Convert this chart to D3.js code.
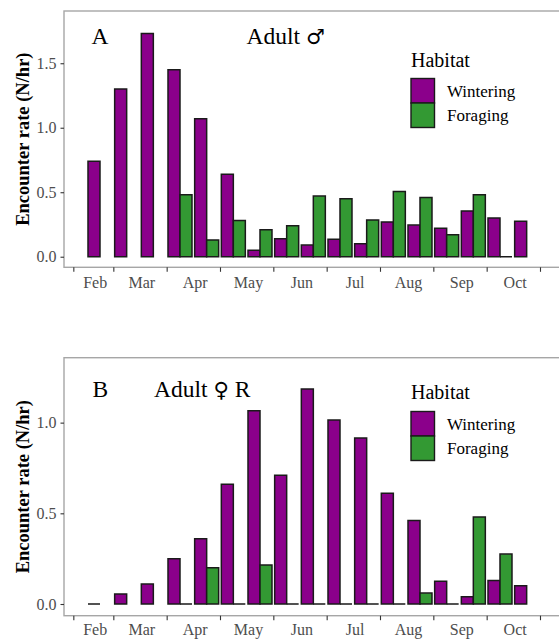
<!DOCTYPE html>
<html>
<head>
<meta charset="utf-8">
<script src="https://cdn.jsdelivr.net/npm/d3@7"></script>
<style>
  body { margin: 0; background: #fff; }
  svg { display: block; }
</style>
</head>
<body>
<svg id="chart" width="559" height="639" font-family="Liberation Serif"></svg>
<script>
// half-month groups, Feb (1st half) .. Oct (2nd half)
const groups = ["Feb-1","Feb-2","Mar-1","Mar-2","Apr-1","Apr-2","May-1","May-2","Jun-1","Jun-2",
                "Jul-1","Jul-2","Aug-1","Aug-2","Sep-1","Sep-2","Oct-1","Oct-2"];
const months = ["Feb","Mar","Apr","May","Jun","Jul","Aug","Sep","Oct"];
const monthLabelPos = [0.8, 2.55, 4.55, 6.55, 8.55, 10.55, 12.55, 14.55, 16.55];
const monthTickPos = [0, 1.5, 3.5, 5.5, 7.5, 9.5, 11.5, 13.5, 15.5, 17.5];
const habitats = ["Wintering", "Foraging"];
const habitatColors = ["#8b008b", "#339933"];

// null = no observation (no bar), 0 = drawn as flat bar
const maleWintering = [null, 0.74, 1.30, 1.73, 1.45, 1.07, 0.64, 0.05, 0.14, 0.09,
                       0.135, 0.10, 0.27, 0.245, 0.22, 0.355, 0.30, 0.275];
const maleForaging  = [null, null, null, null, 0.48, 0.13, 0.28, 0.21, 0.24, 0.47,
                       0.45, 0.285, 0.505, 0.46, 0.17, 0.48, 0, null];
const femaleWintering = [null, 0, 0.055, 0.11, 0.25, 0.36, 0.66, 1.065, 0.71, 1.185,
                         1.015, 0.915, 0.61, 0.46, 0.125, 0.04, 0.13, 0.10];
const femaleForaging  = [null, null, null, null, 0, 0.20, 0, 0.215, 0, 0,
                         0, 0, 0, 0.06, 0, 0.48, 0.275, null];

const yTicksA = [0, 0.5, 1.0, 1.5];
const yTicksB = [0, 0.5, 1.0];

const SERIF = "Liberation Serif";
const svg = d3.select("#chart");

const x = d3.scaleLinear().domain([0, 18]).range([73.33, 553.33]);
const barW = 0.45;

function drawPanel(opts) {
  const g = svg.append("g");
  const y = d3.scaleLinear().domain(opts.yDomain).range([opts.bottom, opts.top]);
  const left = 64, right = 600;

  // panel border
  g.append("rect")
    .attr("x", left).attr("y", opts.top)
    .attr("width", right - left).attr("height", opts.bottom - opts.top)
    .attr("fill", "none").attr("stroke", "#a6a6a6").attr("stroke-width", 1.4);

  // bars
  const series = [opts.wintering, opts.foraging];
  series.forEach((vals, s) => {
    const data = vals.map((v, i) => ({ i, v })).filter(d => d.v !== null);
    g.selectAll(null).data(data).enter().append("path")
      .attr("d", d => {
        const x0 = x(d.i - barW + s * barW), x1 = x(d.i + s * barW);
        const y0 = y(0), y1 = y(d.v);
        return `M${x0},${y0}V${y1}H${x1}V${y0}Z`;
      })
      .attr("fill", habitatColors[s])
      .attr("stroke", "#1a1a1a")
      .attr("stroke-width", 1.5);
  });

  // y axis ticks + labels
  const yAxis = g.append("g")
    .attr("transform", `translate(${left},0)`)
    .call(d3.axisLeft(y).tickValues(opts.yTicks).tickFormat(d3.format(".1f")).tickSize(3.5).tickPadding(4));
  yAxis.attr("font-family", SERIF).attr("font-size", 16);
  yAxis.select(".domain").remove();
  yAxis.selectAll("line").attr("stroke", "#333").attr("stroke-width", 1.1);
  yAxis.selectAll("text").attr("fill", "#4d4d4d");

  // x axis: ticks at month boundaries, labels at month centres
  const xTicks = g.append("g")
    .attr("transform", `translate(0,${opts.bottom})`)
    .call(d3.axisBottom(x).tickValues(monthTickPos).tickFormat("").tickSize(4.5));
  xTicks.select(".domain").remove();
  xTicks.selectAll("line").attr("stroke", "#333").attr("stroke-width", 1.1);

  const xLabels = g.append("g")
    .attr("transform", `translate(0,${opts.bottom})`)
    .call(d3.axisBottom(x).tickValues(monthLabelPos).tickFormat((d, i) => months[i]).tickSize(0).tickPadding(opts.labelPad));
  xLabels.attr("font-family", SERIF).attr("font-size", 16);
  xLabels.select(".domain").remove();
  xLabels.selectAll("text").attr("fill", "#4d4d4d");

  // y title
  g.append("text")
    .attr("transform", `translate(28.5,${(opts.top + opts.bottom) / 2}) rotate(-90)`)
    .attr("text-anchor", "middle")
    .attr("font-family", SERIF).attr("font-size", 18.5).attr("font-weight", "bold")
    .text("Encounter rate (N/hr)");

  // panel letter and title
  g.append("text").attr("x", opts.letterX).attr("y", opts.titleY)
    .attr("font-family", SERIF).attr("font-size", 23.5).text(opts.letter);
  const t = g.append("text").attr("x", opts.titleX).attr("y", opts.titleY)
    .attr("font-family", SERIF).attr("font-size", 23.5);
  t.append("tspan").text(opts.title[0]);
  t.append("tspan").attr("font-family", "DejaVu Sans").attr("font-size", 21).text(opts.title[1]);
  if (opts.title[2]) t.append("tspan").text(opts.title[2]);

  // legend
  const lg = g.append("g").attr("transform", `translate(411,${opts.legendY})`)
    .attr("font-family", SERIF);
  lg.append("text").attr("x", 0).attr("y", 0).attr("font-size", 20).text("Habitat");
  habitats.forEach((h, k) => {
    lg.append("rect")
      .attr("x", 0).attr("y", opts.keyGap + k * 24.5)
      .attr("width", 23.5).attr("height", 24.5)
      .attr("fill", habitatColors[k]).attr("stroke", "#1a1a1a").attr("stroke-width", 1.4);
    lg.append("text").attr("x", 36).attr("y", opts.keyGap + k * 24.5 + 18)
      .attr("font-size", 17).text(h);
  });
}

drawPanel({
  top: 11, bottom: 267.3, yDomain: [-0.082, 1.905], yTicks: yTicksA,
  wintering: maleWintering, foraging: maleForaging,
  letter: "A", letterX: 91.5, title: ["Adult ", "\u2642"], titleX: 246.5, titleY: 44,
  legendY: 66.5, keyGap: 12, labelPad: 9.5
});

drawPanel({
  top: 357.7, bottom: 615.7, yDomain: [-0.0645, 1.358], yTicks: yTicksB,
  wintering: femaleWintering, foraging: femaleForaging,
  letter: "B", letterX: 92.5, title: ["Adult ", "\u2640", " R"], titleX: 154, titleY: 397,
  legendY: 398.5, keyGap: 13, labelPad: 8
});
</script>
</body>
</html>
